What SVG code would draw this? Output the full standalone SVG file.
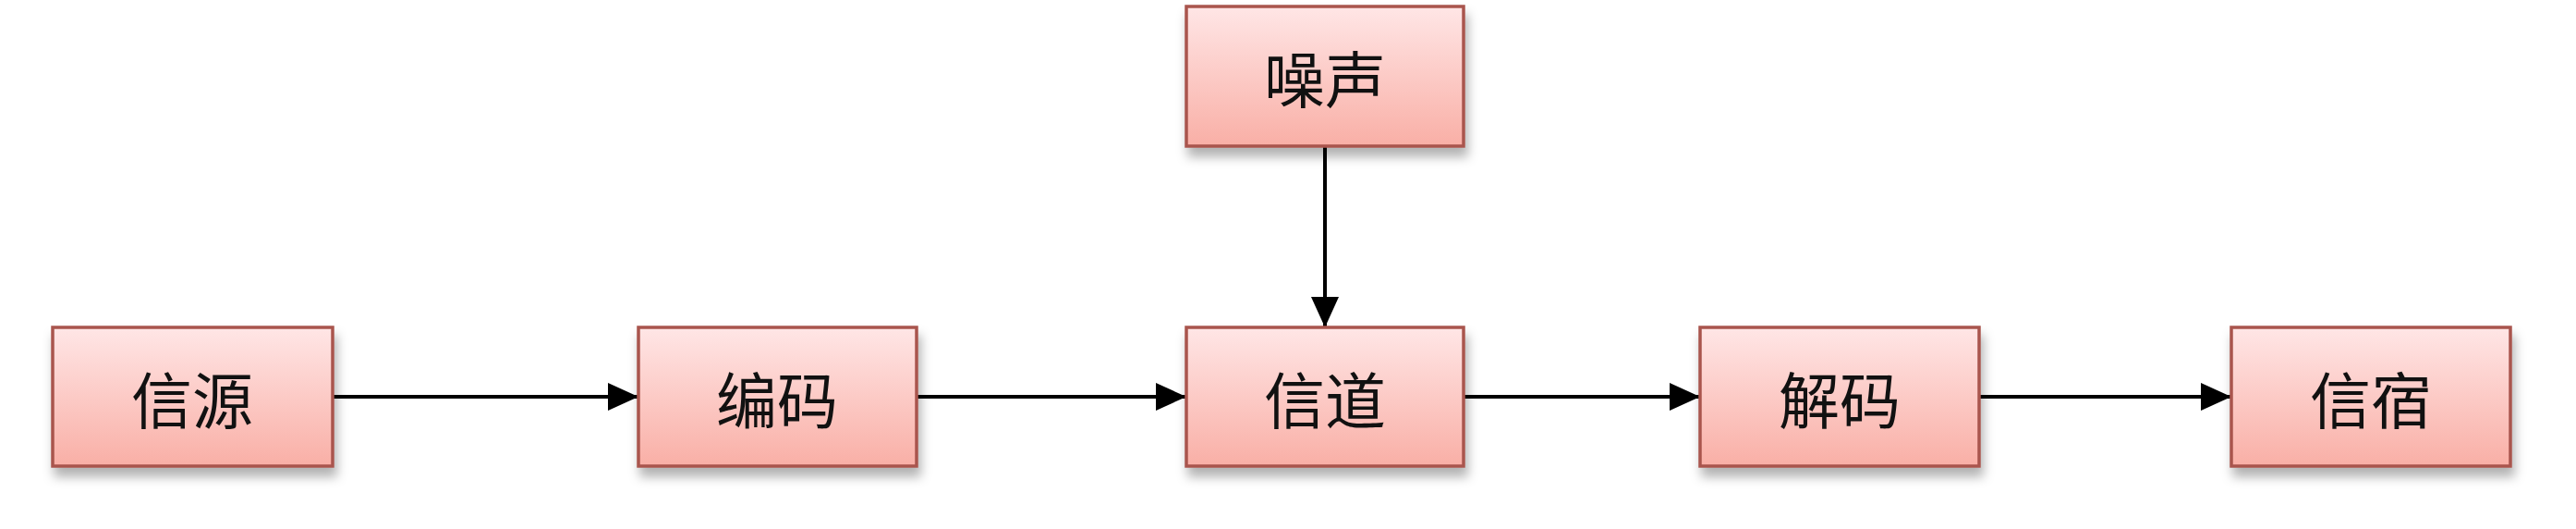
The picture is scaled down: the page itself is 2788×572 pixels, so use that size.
<svg xmlns="http://www.w3.org/2000/svg" width="2788" height="572" viewBox="0 0 2788 572">
  <defs>
    <linearGradient id="fillGrad" x1="0" y1="0" x2="0" y2="1">
      <stop offset="0" stop-color="#FFE6E6"/>
      <stop offset="1" stop-color="#F9AFA6"/>
    </linearGradient>
    <filter id="shadow" x="-10%" y="-10%" width="125%" height="140%">
      <feDropShadow dx="3" dy="10" stdDeviation="6" flood-color="#000000" flood-opacity="0.3"/>
    </filter>
    <marker id="arrow" markerUnits="userSpaceOnUse" markerWidth="34" markerHeight="32" refX="33" refY="16" orient="auto">
      <path d="M0,1 L33,16 L0,31 Z" fill="#000000"/>
    </marker>
    <style>
      .box { fill: url(#fillGrad); stroke: #A9554E; stroke-width: 3.5; filter: url(#shadow); }
      .label { font-family: "Noto Sans CJK SC", "Noto Sans", sans-serif; font-size: 66px; font-weight: 400; fill: #111111; text-anchor: middle; dominant-baseline: central; }
      .conn { stroke: #000000; stroke-width: 4; fill: none; marker-end: url(#arrow); }
    </style>
  </defs>
  <rect width="2788" height="572" fill="#FFFFFF"/>

  <g id="connectors">
    <line class="conn" x1="360" y1="429" x2="691" y2="429"/>
    <line class="conn" x1="992" y1="429" x2="1284" y2="429"/>
    <line class="conn" x1="1584" y1="429" x2="1840" y2="429"/>
    <line class="conn" x1="2142" y1="429" x2="2415" y2="429"/>
    <line class="conn" x1="1434" y1="158" x2="1434" y2="354"/>
  </g>

  <g id="node-source">
    <rect class="box" x="57" y="354" width="303" height="150"/>
    <text class="label" x="208" y="429">信源</text>
  </g>
  <g id="node-encode">
    <rect class="box" x="691" y="354" width="301" height="150"/>
    <text class="label" x="841" y="429">编码</text>
  </g>
  <g id="node-noise">
    <rect class="box" x="1284" y="7" width="300" height="151"/>
    <text class="label" x="1434" y="82">噪声</text>
  </g>
  <g id="node-channel">
    <rect class="box" x="1284" y="354" width="300" height="150"/>
    <text class="label" x="1434" y="429">信道</text>
  </g>
  <g id="node-decode">
    <rect class="box" x="1840" y="354" width="302" height="150"/>
    <text class="label" x="1991" y="429">解码</text>
  </g>
  <g id="node-sink">
    <rect class="box" x="2415" y="354" width="302" height="150"/>
    <text class="label" x="2566" y="429">信宿</text>
  </g>
</svg>
